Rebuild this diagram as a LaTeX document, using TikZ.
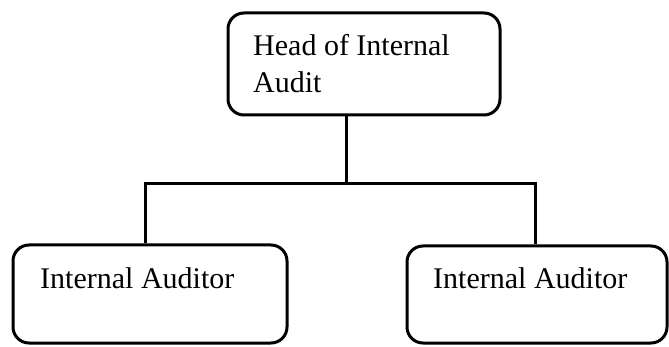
\documentclass[tikz,border=0pt]{standalone}
\usepackage{fontspec}
\setmainfont{Liberation Serif}
\begin{document}
\begin{tikzpicture}[x=1pt,y=1pt,
  unitbox/.style={draw=black, line width=3pt, rounded corners=16pt, inner sep=0pt},
  unitlabel/.style={inner sep=0pt, font=\fontsize{30}{37}\selectfont, align=left},
  link/.style={draw=black, line width=3pt}]
  \useasboundingbox (0,0) rectangle (669,-347);
  % boxes
  \node[unitbox, minimum width=272pt, minimum height=102pt] (head) at (364,-64) {};
  \node[unitbox, minimum width=274pt, minimum height=98pt] (left) at (150,-294) {};
  \node[unitbox, minimum width=260pt, minimum height=97pt] (right) at (537,-294.5) {};
  % labels
  \node[unitlabel, anchor=north west] (headtxt) at (253,-34) {Head of Internal\\Audit};
  \node[unitlabel, anchor=base west] (lefttxt) at (40,-288) {Internal Auditor};
  \node[unitlabel, anchor=base west] (righttxt) at (433,-289) {Internal Auditor};
  % connectors
  \coordinate (junction) at (346,-184);
  \coordinate (busL) at (145,-184);
  \coordinate (busR) at (535,-184);
  \draw[link] (junction |- head.south) -- (junction);
  \draw[link] (busL |- left.north) -- (busL) -- (busR) -- (busR |- right.north);
\end{tikzpicture}
\end{document}
